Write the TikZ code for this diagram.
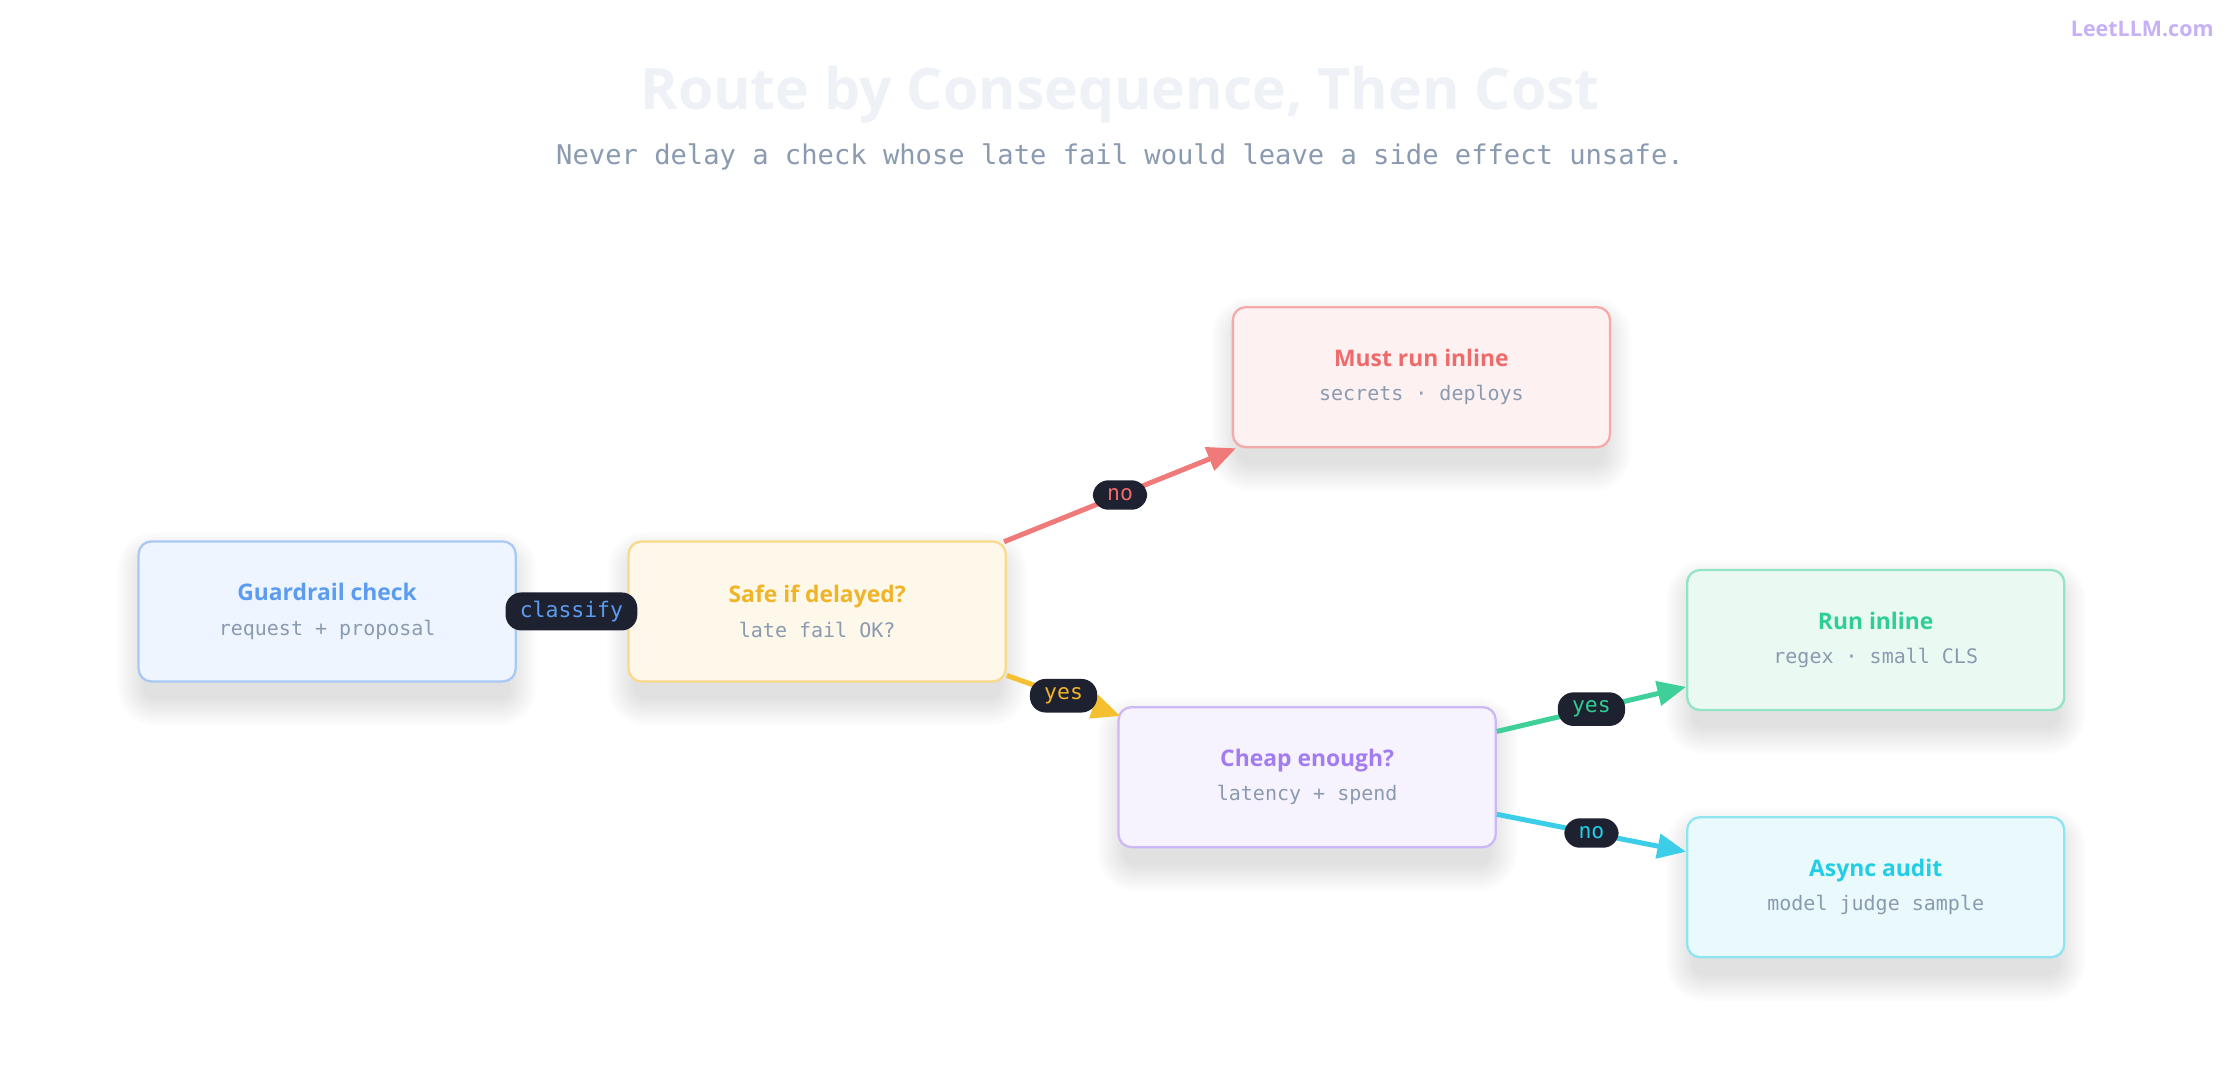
\documentclass[tikz,border=0pt]{standalone}
\usepackage{fontspec}
\setmainfont{Open Sans}
\newfontfamily\monof{DejaVu Sans Mono}
\usetikzlibrary{arrows.meta,backgrounds}
\definecolor{bT}{HTML}{5B9CF0}\definecolor{bF}{HTML}{EEF5FE}\definecolor{bB}{HTML}{A9C9F5}
\definecolor{yT}{HTML}{F0B429}\definecolor{yF}{HTML}{FEF8EA}\definecolor{yB}{HTML}{F9D98A}
\definecolor{rT}{HTML}{EF6B6B}\definecolor{rF}{HTML}{FDF1F1}\definecolor{rB}{HTML}{F5AAAA}
\definecolor{pT}{HTML}{A27CF0}\definecolor{pF}{HTML}{F6F2FE}\definecolor{pB}{HTML}{CDB8F7}
\definecolor{gT}{HTML}{2ECF95}\definecolor{gF}{HTML}{EAFAF3}\definecolor{gB}{HTML}{93E4C4}
\definecolor{cT}{HTML}{22CDE6}\definecolor{cF}{HTML}{E9F9FC}\definecolor{cB}{HTML}{8EE5F1}
\definecolor{rA}{HTML}{F07A7A}\definecolor{yA}{HTML}{F4C030}\definecolor{gA}{HTML}{3FD09A}\definecolor{cA}{HTML}{3CCDE8}
\definecolor{sub}{HTML}{8A9AB0}\definecolor{pill}{HTML}{1E2130}\definecolor{ttl}{HTML}{EEF2F7}
\tikzset{
 box/.style={draw=#1B,fill=#1F,line width=1.6pt,rounded corners=9pt,minimum width=264pt,minimum height=98pt,
   align=center,font=\fontsize{16}{22}\selectfont},
 lab/.style={fill=pill,text=#1,rounded corners=11pt,inner xsep=10pt,inner ysep=6pt,font=\monof\fontsize{15}{15}\selectfont},
 con/.style={draw=#1,line width=3.5pt,-{Triangle[length=20pt,width=17pt]}},
}
\newcommand{\bx}[3]{{\color{#1}\bfseries #2}\\[2pt]{\monof\fontsize{14}{14}\selectfont\color{sub}#3}}
\begin{document}
\begin{tikzpicture}[x=1pt,y=-1pt]
\useasboundingbox (0,0) rectangle (1568,756);
\node[font=\bfseries\fontsize{40}{44}\selectfont,text=ttl] (title) at (784,66) {Route by Consequence, Then Cost};
\node[font=\monof\fontsize{19}{22}\selectfont,text=sub] (subt) at (784,110) {Never delay a check whose late fail would leave a side effect unsafe.};
\node[font=\bfseries\fontsize{15}{15}\selectfont,text=pT!60,anchor=east] (logo) at (1553,20) {LeetLLM.com};
\node[box=b] (g) at (229,428) {\bx{bT}{Guardrail check}{request + proposal}};
\node[box=y] (s) at (572,428) {\bx{yT}{Safe if delayed?}{late fail OK?}};
\node[box=r] (m) at (995,264) {\bx{rT}{Must run inline}{secrets · deploys}};
\node[box=p] (c) at (915,544) {\bx{pT}{Cheap enough?}{latency + spend}};
\node[box=g] (r) at (1313,448) {\bx{gT}{Run inline}{regex · small CLS}};
\node[box=c] (a) at (1313,621) {\bx{cT}{Async audit}{model judge sample}};
\begin{scope}[on background layer]
\fill[white] (0,0) rectangle (1568,756);
\foreach \n in {g,s,m,c,r,a}{
 \foreach \i in {0,2,...,18}{
  \fill[black,opacity=0.013,rounded corners=9pt+\i pt]
   ([xshift=-\i pt+4pt,yshift=\i pt-12pt]\n.north west) rectangle ([xshift=\i pt-4pt,yshift=-\i pt-12pt]\n.south east);
 }}
\end{scope}
\draw[con=rA] ([xshift=-2pt,yshift=-1pt]s.north east) -- ([xshift=3pt]m.south west) node[pos=0.5,lab=rT]{no};
\draw[con=yA] ([yshift=5pt]s.south east) -- ([xshift=2pt,yshift=-7pt]c.north west) node[pos=0.5,lab=yT]{yes};
\draw[con=gA] ([yshift=32pt]c.east) -- ([yshift=17pt]r.south west) node[pos=0.5,lab=gT]{yes};
\draw[con=cA] ([yshift=-26pt]c.east) -- ([yshift=-25pt]a.north west) node[pos=0.5,lab=cT]{no};
\node[lab=bT] (cl) at (400,428) {classify};
\end{tikzpicture}
\end{document}
